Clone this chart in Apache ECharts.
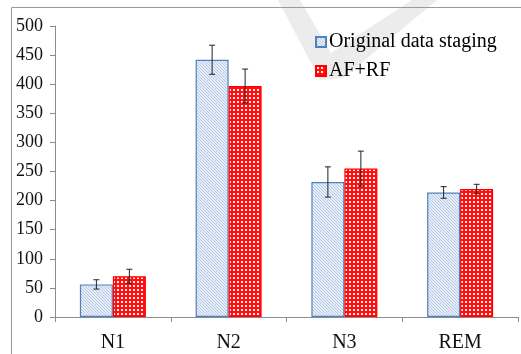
<!DOCTYPE html>
<html>
<head>
<meta charset="utf-8">
<script src="https://cdn.jsdelivr.net/npm/echarts@6/dist/echarts.min.js"></script>
<style>
  html, body { margin: 0; padding: 0; background: #fff; }
  #chart { width: 521px; height: 354px; }
</style>
</head>
<body>
<div id="chart"></div>
<script>
const categories = ["N1", "N2", "N3", "REM"];
const originalValues = [56, 442, 232, 214];
const originalErrors = [8, 25, 26, 10];
const afrfValues = [70, 397, 255, 220];
const afrfErrors = [12, 29, 30, 8];
const yTicks = [0, 50, 100, 150, 200, 250, 300, 350, 400, 450, 500];

const BAR_FRAC = 0.285;

// hatched blue fill
function makeHatch() {
  const c = document.createElement("canvas");
  c.width = 3; c.height = 3;
  const ctx = c.getContext("2d");
  ctx.fillStyle = "#e8eef8";
  ctx.fillRect(0, 0, 3, 3);
  ctx.fillStyle = "#b3c8e6";
  for (let i = 0; i < 3; i++) ctx.fillRect(i, i, 1, 1);
  return c;
}

// red checker fill
function makeChecker() {
  const c = document.createElement("canvas");
  c.width = 4; c.height = 4;
  const ctx = c.getContext("2d");
  ctx.fillStyle = "#ff1010";
  ctx.fillRect(0, 0, 4, 4);
  ctx.fillStyle = "#ffe8e8";
  ctx.fillRect(1, 1, 2, 2);
  return c;
}

function errorSeries(values, errors, side) {
  const data = values.map((v, i) => [i, v - errors[i], v + errors[i]]);
  return {
    type: "custom",
    silent: true,
    z: 10,
    renderItem: function (params, api) {
      const idx = api.value(0);
      const lo = api.coord([idx, api.value(1)]);
      const hi = api.coord([idx, api.value(2)]);
      const bw = api.size([1, 0])[0] * BAR_FRAC;
      const x = lo[0] + side * bw / 2;
      const cap = 3;
      const style = { stroke: "#222", lineWidth: 1, fill: null };
      return {
        type: "group",
        children: [
          { type: "line", shape: { x1: x, y1: hi[1], x2: x, y2: lo[1] }, style: style },
          { type: "line", shape: { x1: x - cap, y1: hi[1], x2: x + cap, y2: hi[1] }, style: style },
          { type: "line", shape: { x1: x - cap, y1: lo[1], x2: x + cap, y2: lo[1] }, style: style }
        ]
      };
    },
    data: data
  };
}

const chart = echarts.init(document.getElementById("chart"));
const serif = "'Liberation Serif', 'DejaVu Serif', serif";

const option = {
  animation: false,
  backgroundColor: "#fff",
  graphic: [
    {
      // faint watermark
      type: "polygon",
      shape: { points: [[278, 0], [300, 0], [331, 53], [412, 0], [437, 0], [343, 78], [320, 80]] },
      style: { fill: "#ececec" },
      z: -2
    },
    {
      type: "rect",
      shape: { x: 11.5, y: 7.5, width: 560, height: 400 },
      style: { fill: null, stroke: "#9a9a9a", lineWidth: 1 },
      z: -1
    }
  ],
  legend: {
    orient: "vertical",
    left: 310,
    top: 27,
    itemWidth: 10,
    itemHeight: 10,
    itemGap: 9,
    icon: "rect",
    data: ["Original data staging", "AF+RF"],
    textStyle: { fontFamily: serif, fontSize: 20, color: "#000", padding: [0, 0, 0, -2] }
  },
  grid: { left: 55, right: 3, top: 26, bottom: 37 },
  xAxis: {
    type: "category",
    data: categories,
    axisLine: { lineStyle: { color: "#8c8c8c" } },
    axisTick: { show: true, length: 5, lineStyle: { color: "#8c8c8c" } },
    axisLabel: { fontFamily: serif, fontSize: 20, color: "#111", margin: 16 }
  },
  yAxis: {
    type: "value",
    min: yTicks[0],
    max: yTicks[yTicks.length - 1],
    interval: yTicks[1] - yTicks[0],
    splitLine: { show: false },
    axisLine: { show: true, lineStyle: { color: "#8c8c8c" } },
    axisTick: { show: true, length: 5, lineStyle: { color: "#8c8c8c" } },
    axisLabel: { fontFamily: serif, fontSize: 18, color: "#111", margin: 12 }
  },
  series: [
    {
      name: "Original data staging",
      type: "bar",
      barWidth: (BAR_FRAC * 100) + "%",
      barGap: "0%",
      itemStyle: {
        color: { image: makeHatch(), repeat: "repeat" },
        borderColor: "#4f81bd",
        borderWidth: 1.2
      },
      data: originalValues
    },
    {
      name: "AF+RF",
      type: "bar",
      barWidth: (BAR_FRAC * 100) + "%",
      barGap: "0%",
      itemStyle: {
        color: { image: makeChecker(), repeat: "repeat" },
        borderColor: "#ff0000",
        borderWidth: 1.2
      },
      data: afrfValues
    },
    errorSeries(originalValues, originalErrors, -1),
    errorSeries(afrfValues, afrfErrors, 1)
  ]
};

chart.setOption(option);
</script>
</body>
</html>
